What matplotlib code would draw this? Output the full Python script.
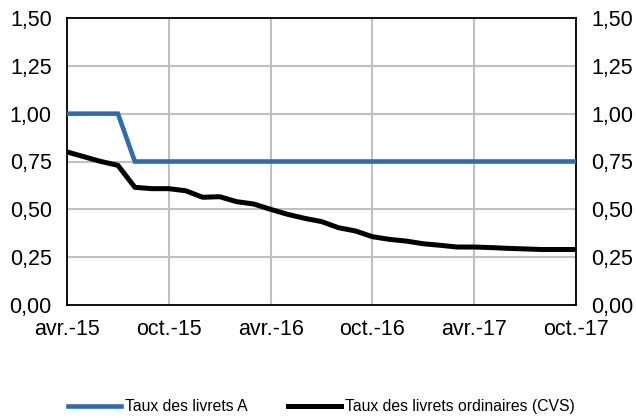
import matplotlib
matplotlib.use("Agg")
import matplotlib.pyplot as plt

plt.rcParams['font.family'] = ['Liberation Sans', 'DejaVu Sans']

# mois d'avril 2015 a octobre 2017
mois = list(range(31))
taux_livret_a = [1.00, 1.00, 1.00, 1.00] + [0.75] * 27
taux_ordinaires = [0.80, 0.775, 0.75, 0.73, 0.615, 0.608, 0.608, 0.597, 0.563, 0.566,
                   0.54, 0.528, 0.50, 0.474, 0.453, 0.436, 0.404, 0.387, 0.357, 0.343,
                   0.334, 0.32, 0.312, 0.303, 0.303, 0.30, 0.296, 0.293, 0.29, 0.29, 0.29]
pos_ticks = [0, 6, 12, 18, 24, 30]
etiquettes = ['avr.-15', 'oct.-15', 'avr.-16', 'oct.-16', 'avr.-17', 'oct.-17']
y_ticks = [0.0, 0.25, 0.5, 0.75, 1.0, 1.25, 1.5]

fig = plt.figure(figsize=(6.36, 4.18), dpi=100)
ax = fig.add_axes([67 / 636, 113 / 418, 509 / 636, 287 / 418])

ax.plot(mois, taux_livret_a, color='#2e6bb0', lw=3.3, label='Taux des livrets A',
        solid_joinstyle='miter', zorder=3)
ax.plot(mois, taux_ordinaires, color='black', lw=3.6,
        label='Taux des livrets ordinaires (CVS)', zorder=4)

ax.set_xlim(0, 30)
ax.set_ylim(0, 1.5)
ax.set_xticks(pos_ticks)
ax.set_xticklabels(etiquettes)
ax.set_yticks(y_ticks)
ax.set_yticklabels([f'{v:.2f}'.replace('.', ',') for v in y_ticks])
ax.grid(True, color='#c0c0c0', lw=1.5)
ax.set_axisbelow(True)
ax.tick_params(axis='y', length=0, labelsize=15.5, pad=11, labelright=True, right=False)
ax.tick_params(axis='x', length=0, labelsize=15.5, pad=10)
for s in ax.spines.values():
    s.set_color('black')
    s.set_linewidth(1.3)

fig.legend(loc='center', bbox_to_anchor=(0.5055, 0.027), ncol=2, frameon=False,
           fontsize=11.3, handlelength=3.4, handletextpad=0.25, columnspacing=2.55)

fig.savefig('out.png', dpi=100)
